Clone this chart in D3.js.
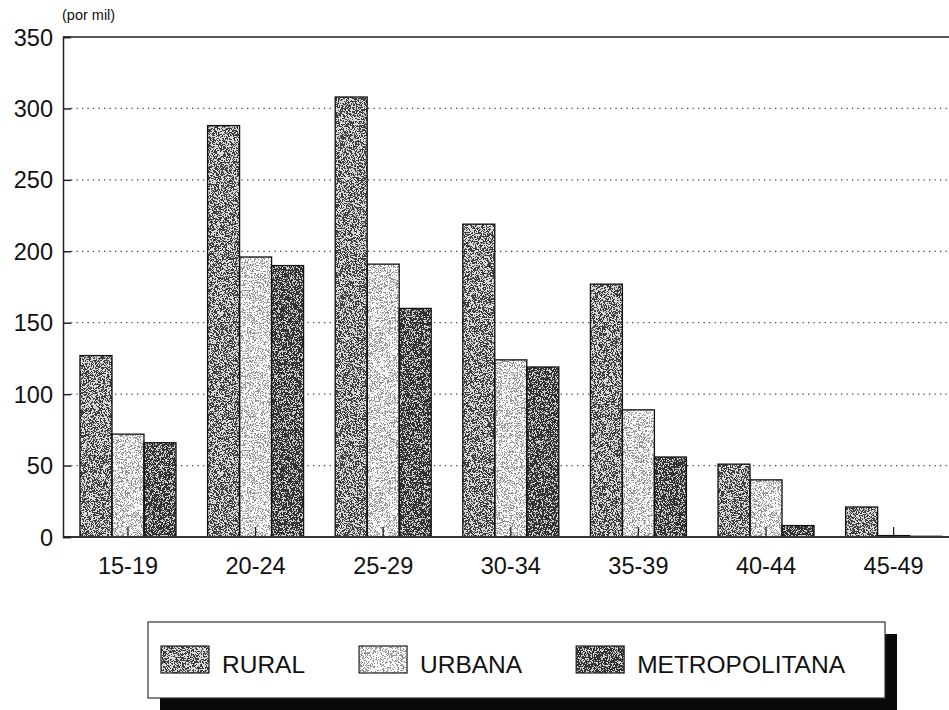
<!DOCTYPE html>
<html>
<head>
<meta charset="utf-8">
<script src="https://cdn.jsdelivr.net/npm/d3@7"></script>
<style>
  html, body { margin: 0; padding: 0; background: #fff; }
  svg { display: block; font-family: "Liberation Sans", Arial, Helvetica, sans-serif; }
</style>
</head>
<body>
<svg id="chart" width="949" height="710"></svg>
<script>
// Age-specific rates (per thousand) by area of residence
const ageGroups = ["15-19", "20-24", "25-29", "30-34", "35-39", "40-44", "45-49"];
const seriesNames = ["RURAL", "URBANA", "METROPOLITANA"];
const rural = [127, 288, 308, 219, 177, 51, 21];
const urbana = [72, 196, 191, 124, 89, 40, 1];
const metropolitana = [66, 190, 160, 119, 56, 8, 0.5];
const yTicks = [0, 50, 100, 150, 200, 250, 300, 350];
const unitLabel = "(por mil)";

const seriesValues = { "RURAL": rural, "URBANA": urbana, "METROPOLITANA": metropolitana };
const rows = ageGroups.map((g, i) => ({
  group: g,
  values: seriesNames.map(s => ({ series: s, value: seriesValues[s][i] }))
}));

const W = 949, H = 710;
const svg = d3.select("#chart");

// stippled grey fills, one per series
const grain = {
  "RURAL":         { lo: 0.25, hi: 0.85, cut: 0.50, seed: 3 },
  "URBANA":        { lo: 0.58, hi: 0.97, cut: 0.45, seed: 7 },
  "METROPOLITANA": { lo: 0.20, hi: 0.80, cut: 0.53, seed: 11 }
};
const defs = svg.append("defs");
seriesNames.forEach((s, k) => {
  const g = grain[s];
  const table = d3.range(24).map(i => (i / 24 < g.cut ? g.lo : g.hi)).join(" ");
  const f = defs.append("filter")
    .attr("id", "grain" + k)
    .attr("filterUnits", "userSpaceOnUse")
    .attr("x", 0).attr("y", 0).attr("width", W).attr("height", H)
    .attr("color-interpolation-filters", "sRGB");
  f.append("feTurbulence")
    .attr("type", "fractalNoise").attr("baseFrequency", 1.6)
    .attr("numOctaves", 1).attr("seed", g.seed).attr("result", "noise");
  f.append("feColorMatrix")
    .attr("in", "noise").attr("type", "matrix")
    .attr("values", "1 0 0 0 0  1 0 0 0 0  1 0 0 0 0  0 0 0 0 1")
    .attr("result", "grey");
  const ct = f.append("feComponentTransfer").attr("in", "grey").attr("result", "dots");
  ["feFuncR", "feFuncG", "feFuncB"].forEach(fn =>
    ct.append(fn).attr("type", "discrete").attr("tableValues", table));
  f.append("feComposite").attr("in", "dots").attr("in2", "SourceGraphic").attr("operator", "in");
});
const fillOf = s => "url(#grain" + seriesNames.indexOf(s) + ")";

// scales
const x0 = d3.scaleBand()
  .domain(ageGroups)
  .range([63, 958.6])
  .paddingInner(0.2476)
  .paddingOuter(0.133);
const x1 = d3.scaleBand()
  .domain(seriesNames)
  .range([0, x0.bandwidth()]);
const y = d3.scaleLinear().domain([0, 350]).range([537, 37]);

const plotLeft = 63, plotRight = W;

// dotted grid
svg.append("g")
  .selectAll("line")
  .data(yTicks.filter(t => t > 0 && t < 350))
  .join("line")
  .attr("x1", plotLeft + 8).attr("x2", plotRight)
  .attr("y1", d => y(d)).attr("y2", d => y(d))
  .attr("stroke", "#444").attr("stroke-width", 1.2)
  .attr("stroke-dasharray", "1.3 4.2");

// bars
const groups = svg.append("g")
  .selectAll("g")
  .data(rows)
  .join("g")
  .attr("transform", d => `translate(${x0(d.group)},0)`);

groups.selectAll("rect.fill")
  .data(d => d.values)
  .join("rect")
  .attr("class", "fill")
  .attr("x", d => x1(d.series))
  .attr("y", d => y(d.value))
  .attr("width", x1.bandwidth())
  .attr("height", d => y(0) - y(d.value))
  .attr("fill", "#000")
  .attr("filter", d => fillOf(d.series));

groups.selectAll("rect.edge")
  .data(d => d.values)
  .join("rect")
  .attr("class", "edge")
  .attr("x", d => x1(d.series))
  .attr("y", d => y(d.value))
  .attr("width", x1.bandwidth())
  .attr("height", d => y(0) - y(d.value))
  .attr("fill", "none")
  .attr("stroke", "#111").attr("stroke-width", 1.3);

// frame: top border, baseline
svg.append("line")
  .attr("x1", plotLeft).attr("x2", plotRight)
  .attr("y1", y(350)).attr("y2", y(350))
  .attr("stroke", "#222").attr("stroke-width", 1.6);
svg.append("line")
  .attr("x1", plotLeft).attr("x2", plotRight)
  .attr("y1", y(0)).attr("y2", y(0))
  .attr("stroke", "#333").attr("stroke-width", 2);

// y axis with inward ticks
const yAxis = d3.axisRight(y)
  .tickValues(yTicks)
  .tickSize(8)
  .tickFormat("");
const yg = svg.append("g")
  .attr("transform", `translate(${plotLeft},0)`)
  .call(yAxis);
yg.select(".domain").attr("stroke", "#222").attr("stroke-width", 1.5);
yg.selectAll(".tick line").attr("stroke", "#222").attr("stroke-width", 1.5);

svg.append("g")
  .selectAll("text")
  .data(yTicks)
  .join("text")
  .attr("x", 53)
  .attr("y", d => y(d) + 8.5)
  .attr("text-anchor", "end")
  .attr("font-size", 23.5)
  .attr("fill", "#111")
  .text(d => d);

// x axis: short inward ticks at group centres, labels below
const xAxis = d3.axisTop(x0).tickSize(10).tickFormat("");
const xg = svg.append("g")
  .attr("transform", `translate(0,${y(0)})`)
  .call(xAxis);
xg.select(".domain").remove();
xg.selectAll(".tick line").attr("stroke", "#222").attr("stroke-width", 1.3);

svg.append("g")
  .selectAll("text")
  .data(ageGroups)
  .join("text")
  .attr("x", d => x0(d) + x0.bandwidth() / 2)
  .attr("y", 574)
  .attr("text-anchor", "middle")
  .attr("font-size", 23.5)
  .attr("fill", "#111")
  .text(d => d);

// unit label
svg.append("text")
  .attr("x", 62).attr("y", 20)
  .attr("font-size", 14.5)
  .attr("fill", "#111")
  .text(unitLabel);

// legend with drop shadow
const legend = svg.append("g");
legend.append("rect")
  .attr("x", 160).attr("y", 634).attr("width", 737).attr("height", 90)
  .attr("fill", "#0a0a0a");
legend.append("rect")
  .attr("x", 148).attr("y", 622).attr("width", 737).attr("height", 76)
  .attr("fill", "#fff").attr("stroke", "#333").attr("stroke-width", 1.2);

let lx = 161;
seriesNames.forEach(s => {
  const item = legend.append("g");
  item.append("rect")
    .attr("x", lx).attr("y", 646).attr("width", 48).attr("height", 27)
    .attr("fill", "#000").attr("filter", fillOf(s));
  item.append("rect")
    .attr("x", lx).attr("y", 646).attr("width", 48).attr("height", 27)
    .attr("fill", "none").attr("stroke", "#222").attr("stroke-width", 1.2);
  const t = item.append("text")
    .attr("x", lx + 61).attr("y", 673)
    .attr("font-size", 24.5)
    .attr("fill", "#111")
    .text(s);
  lx = lx + 61 + t.node().getComputedTextLength() + 54;
});
</script>
</body>
</html>
